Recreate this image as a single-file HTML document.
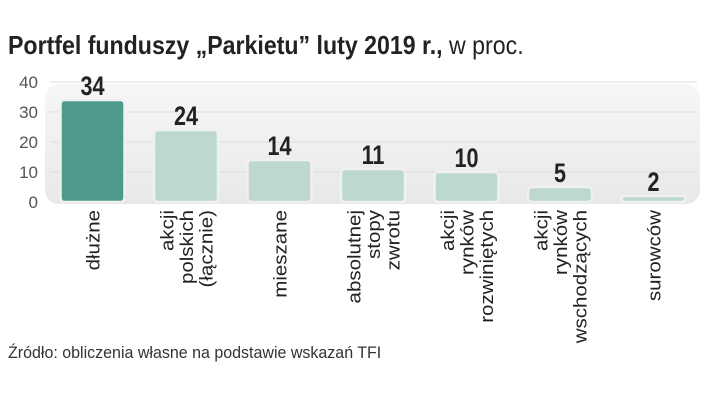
<!DOCTYPE html>
<html><head><meta charset="utf-8"><style>
body{margin:0;background:#fff;width:720px;height:406px;overflow:hidden;font-family:"Liberation Sans",sans-serif;}
</style></head><body>
<svg width="720" height="406">
<defs><linearGradient id="bg" x1="0" y1="0" x2="0" y2="1"><stop offset="0" stop-color="#f7f7f7"/><stop offset="1" stop-color="#e8e8e8"/></linearGradient></defs>
<text transform="translate(8,54) scale(0.89,1)" font-size="26" fill="#222"><tspan font-weight="bold">Portfel funduszy „Parkietu” luty 2019 r.,</tspan><tspan> w proc.</tspan></text>
<rect x="45" y="84" width="655" height="120" rx="14" fill="url(#bg)"/>
<g id="grid"></g><g id="bars"></g><g id="labels"></g>
<text transform="translate(8,358) scale(0.97,1)" font-size="16.5" fill="#333">Źródło: obliczenia własne na podstawie wskazań TFI</text>
</svg>
<script>
const categories=[["dłużne"],["akcji","polskich","(łącznie)"],["mieszane"],["absolutnej","stopy","zwrotu"],["akcji","rynków","rozwiniętych"],["akcji","rynków","wschodzących"],["surowców"]];
const values=[34,24,14,11,10,5,2];
const ticks=[0,10,20,30,40];
const NS="http://www.w3.org/2000/svg";
const y=v=>202-v*3;
const x=i=>92.5+i*93.5;
function mk(t,a,p){const e=document.createElementNS(NS,t);for(const k in a)e.setAttribute(k,a[k]);p.appendChild(e);return e;}
const g=document.getElementById('grid');
ticks.forEach(t=>{
 if(t>0){const l=mk('line',{x1:50,x2:697,y1:y(t),y2:y(t),stroke:'#dcdcdc','stroke-width':1},g);
 
 }
 const tx=mk('text',{x:38,y:y(t)+6,'font-size':17,fill:'#555','text-anchor':'end'},g);tx.textContent=t;
 
 
});
const b=document.getElementById('bars'),lb=document.getElementById('labels');
values.forEach((v,i)=>{
 const h=Math.max(v*3,3);
 const r=mk('rect',{x:x(i)-32,y:202-h,width:64,height:h,rx:4,fill:i==0?'#4e9a8c':'#bdd8d1',stroke:'#f0f0f0','stroke-width':2.5},b);
 
 
 const vt=mk('text',{transform:`translate(${x(i)},${202-h-5}) scale(0.8,1)`,'font-size':27,'font-weight':'bold',fill:'#222','text-anchor':'middle'},b);vt.textContent=v;
 
 
 const lines=categories[i];const n=lines.length;
 lines.forEach((s,j)=>{
  const cx=x(i)+(j-(n-1)/2)*19.5+7;
  const t=mk('text',{transform:`translate(${cx},210) rotate(-90) scale(1,0.9)`,'font-size':20.5,fill:'#222','text-anchor':'end'},lb);t.textContent=s;
  
  
 });
});
</script>
</body></html>
